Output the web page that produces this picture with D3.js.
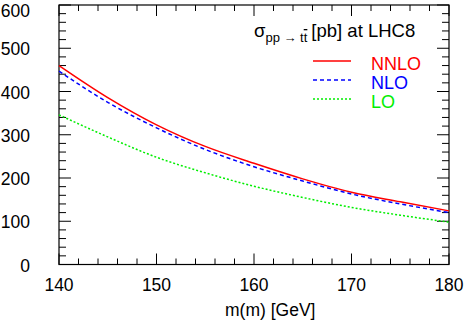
<!DOCTYPE html>
<html>
<head>
<meta charset="utf-8">
<script src="https://d3js.org/d3.v7.min.js"></script>
<style>
  body { margin: 0; background: #fff; }
  svg { display: block; font-family: "Liberation Sans", Arial, sans-serif; }
</style>
</head>
<body>
<svg id="chart" width="464" height="321"></svg>
<script>
// top-quark mass values (GeV) and cross sections in pb
var mass = [140, 145, 150, 155, 160, 165, 170, 175, 180];
var nnlo = [460, 386, 323, 273, 234, 198, 167, 145, 124];
var nlo  = [447, 375, 316, 266, 226, 193, 163, 140, 120];
var lo   = [346, 295, 248, 212, 181, 155, 132, 114, 98];

var xTicks = [140, 150, 160, 170, 180];
var yTicks = [0, 100, 200, 300, 400, 500, 600];

var svg = d3.select('#chart'),
    margin = {top: 5, right: 15, bottom: 56.5, left: 59},
    width = +svg.attr("width") - margin.left - margin.right,
    height = +svg.attr("height") - margin.top - margin.bottom,
    g = svg.append("g").attr("transform", "translate(" + margin.left + "," + margin.top + ")");

var x = d3.scaleLinear().domain([140, 180]).range([0, width]);
var y = d3.scaleLinear().domain([0, 600]).range([height, 0]);

// minor ticks every 2 GeV / 20 pb, major ones longer
var xMinor = d3.range(140, 180.1, 2);
var yMinor = d3.range(0, 600.1, 20);

function tickLen(v, step) { return (v % step === 0) ? 11 : 6; }

// bottom + top ticks
g.selectAll(".xt").data(xMinor).enter().append("line")
  .attr("x1", function (d) { return x(d); })
  .attr("x2", function (d) { return x(d); })
  .attr("y1", height)
  .attr("y2", function (d) { return height - tickLen(d, 10); })
  .attr("stroke", "#000");
g.selectAll(".xtt").data(xMinor).enter().append("line")
  .attr("x1", function (d) { return x(d); })
  .attr("x2", function (d) { return x(d); })
  .attr("y1", 0)
  .attr("y2", function (d) { return tickLen(d, 10); })
  .attr("stroke", "#000");

// left + right ticks
g.selectAll(".yt").data(yMinor).enter().append("line")
  .attr("y1", function (d) { return y(d); })
  .attr("y2", function (d) { return y(d); })
  .attr("x1", 0)
  .attr("x2", function (d) { return tickLen(d, 100) + 1; })
  .attr("stroke", "#000");
g.selectAll(".ytr").data(yMinor).enter().append("line")
  .attr("y1", function (d) { return y(d); })
  .attr("y2", function (d) { return y(d); })
  .attr("x1", width)
  .attr("x2", function (d) { return width - tickLen(d, 100) - 1; })
  .attr("stroke", "#000");

g.append("rect")
  .attr("width", width)
  .attr("height", height)
  .attr("fill", "none")
  .attr("stroke", "#000")
  .attr("stroke-width", 1.2);

// tick labels
g.selectAll(".xl").data(xTicks).enter().append("text")
  .attr("x", function (d) { return x(d); })
  .attr("y", height + 26)
  .attr("text-anchor", "middle")
  .attr("font-size", 17.5)
  .text(function (d) { return d; });

// top label would poke out of the page, keep it just inside
g.selectAll(".yl").data(yTicks).enter().append("text")
  .attr("x", -29)
  .attr("y", function (d) { return Math.max(y(d) + 7, 11.5); })
  .attr("text-anchor", "end")
  .attr("font-size", 17.5)
  .text(function (d) { return d; });

svg.append("text")
  .attr("x", 225)
  .attr("y", 316)
  .attr("font-size", 17.5)
  .text("m(m) [GeV]");

// curves
var line = d3.line()
  .x(function (d) { return x(d[0]); })
  .y(function (d) { return y(d[1]); })
  .curve(d3.curveMonotoneX);

var series = [
  {name: "NNLO", vals: nnlo, color: "#ff0000", dash: null, w: 1.5},
  {name: "NLO",  vals: nlo,  color: "#0000ff", dash: "4,3", w: 1.5},
  {name: "LO",   vals: lo,   color: "#00ee00", dash: "2,2", w: 1.5}
];

series.forEach(function (s) {
  g.append("path")
    .datum(d3.zip(mass, s.vals))
    .attr("d", line)
    .attr("fill", "none")
    .attr("stroke", s.color)
    .attr("stroke-width", s.w)
    .attr("stroke-dasharray", s.dash);
});

// legend
var title = svg.append("text")
  .attr("x", 254)
  .attr("y", 37)
  .attr("font-size", 18.5);
title.append("tspan").text("σ");
title.append("tspan").attr("dy", 5).attr("font-size", 13).text("pp → t");
title.append("tspan").attr("font-size", 13).style("text-decoration", "overline").text("t");
title.append("tspan").attr("dy", -5).attr("dx", 4).text("[pb] at LHC8");

var leg = svg.append("g");
series.forEach(function (s, i) {
  var ly = 61 + i * 19;
  leg.append("line")
    .attr("x1", 313).attr("x2", 351)
    .attr("y1", ly).attr("y2", ly)
    .attr("stroke", s.color)
    .attr("stroke-width", s.w)
    .attr("stroke-dasharray", s.dash);
  leg.append("text")
    .attr("x", 371)
    .attr("y", ly + 9)
    .attr("font-size", 18)
    .attr("fill", s.color)
    .text(s.name);
});
</script>
</body>
</html>
